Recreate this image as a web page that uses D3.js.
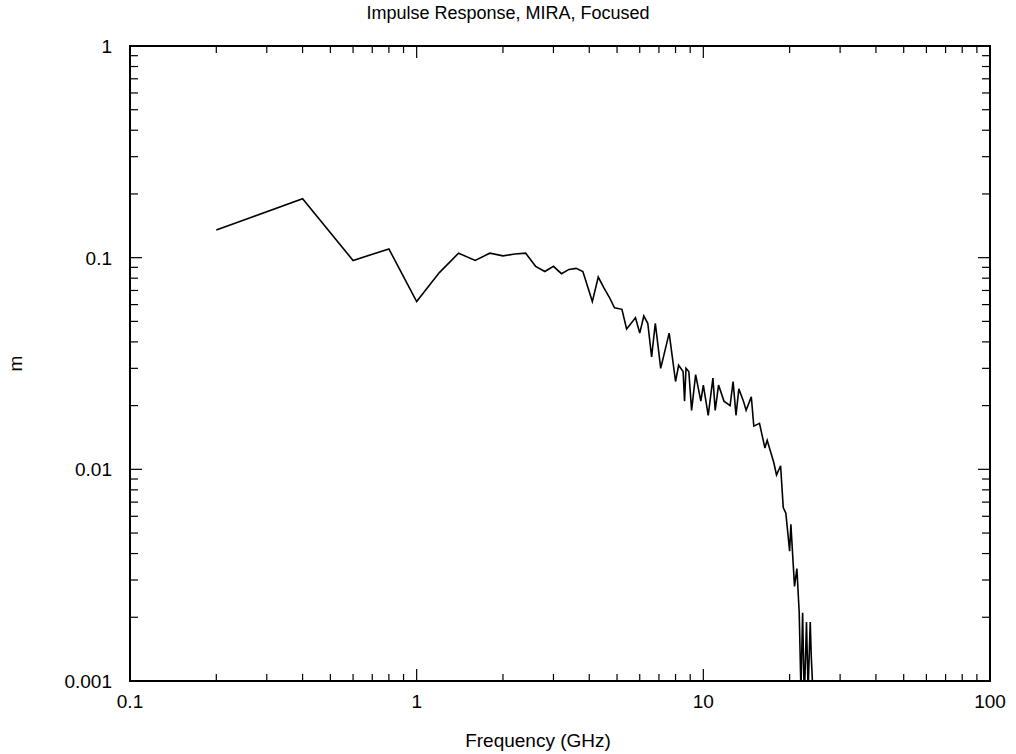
<!DOCTYPE html>
<html><head><meta charset="utf-8">
<script src="https://cdn.jsdelivr.net/npm/d3@7"></script>
<style>body{margin:0;background:#fff}text{font-family:"Liberation Sans",Arial,sans-serif}</style>
</head><body><svg id="c" width="1016" height="754"></svg>
<script>
"use strict";
var freq = [0.2,0.4,0.6,0.8,1.0,1.2,1.4,1.6,1.8,2.0,2.2,2.4,2.6,2.8,3.0,3.2,3.4,3.6,3.8,4.1,4.3,4.5,4.7,4.9,5.2,5.4,5.8,6.0,6.2,6.4,6.6,6.8,7.1,7.6,8.0,8.2,8.5,8.6,8.7,8.9,9.1,9.4,9.8,10.0,10.4,10.8,11.0,11.3,11.8,12.4,12.7,13.0,13.3,13.8,14.1,14.7,15.0,15.7,16.4,16.7,17.6,18.0,18.6,19.0,19.4,20.0,20.2,20.8,21.2,21.6,21.9,22.2,22.5,22.9,23.2,23.6,23.8,24.2];
var mag = [0.135,0.19,0.097,0.11,0.062,0.085,0.105,0.097,0.105,0.102,0.104,0.105,0.091,0.086,0.091,0.084,0.088,0.089,0.086,0.062,0.081,0.072,0.065,0.058,0.057,0.046,0.052,0.044,0.053,0.049,0.034,0.049,0.030,0.044,0.026,0.031,0.029,0.021,0.030,0.029,0.019,0.028,0.021,0.025,0.018,0.027,0.019,0.025,0.021,0.020,0.026,0.018,0.024,0.021,0.019,0.022,0.016,0.0165,0.0126,0.0137,0.0108,0.0094,0.0104,0.0066,0.0062,0.0041,0.0055,0.0028,0.0034,0.0021,0.0009,0.0021,0.0008,0.0019,0.0009,0.0019,0.0013,0.0008];
var xTicks = [0.1,1,10,100];
var yTicks = [0.001,0.01,0.1,1];

var svg = d3.select("#c");
var L = 130, R = 990, T = 46, B = 681;
var x = d3.scaleLog().domain([0.1,100]).range([L,R]);
var y = d3.scaleLog().domain([0.001,1]).range([B,T]);

function minors(dom) {
    var out = [];
    for (var e = Math.log10(dom[0]); e < Math.log10(dom[1]); e++) {
        for (var k = 2; k <= 9; k++) out.push(k * Math.pow(10, e));
    }
    return out;
}

var g = svg.append("g").attr("stroke", "#000").attr("stroke-width", 1.2);
function tick(vals, len, horiz) {
    vals.forEach(function (v) {
        if (horiz) {
            g.append("line").attr("x1", x(v)).attr("x2", x(v)).attr("y1", B).attr("y2", B - len);
            g.append("line").attr("x1", x(v)).attr("x2", x(v)).attr("y1", T).attr("y2", T + len);
        } else {
            g.append("line").attr("y1", y(v)).attr("y2", y(v)).attr("x1", L).attr("x2", L + len);
            g.append("line").attr("y1", y(v)).attr("y2", y(v)).attr("x1", R).attr("x2", R - len);
        }
    });
}
tick(minors([0.1,100]), 7, true);
tick(xTicks, 12, true);
tick(minors([0.001,1]), 8, false);
tick(yTicks, 12, false);

svg.append("clipPath").attr("id", "pc").append("rect")
    .attr("x", L).attr("y", T).attr("width", R - L).attr("height", B - T);

svg.append("path")
    .datum(freq.map(function (f, i) { return [f, mag[i]]; }))
    .attr("clip-path", "url(#pc)")
    .attr("fill", "none").attr("stroke", "#000").attr("stroke-width", 1.6)
    .attr("d", d3.line().x(function (d) { return x(d[0]); }).y(function (d) { return y(d[1]); }));

svg.append("rect").attr("x", L).attr("y", T).attr("width", R - L).attr("height", B - T)
    .attr("fill", "none").attr("stroke", "#000").attr("stroke-width", 2);

svg.selectAll(".xl").data(xTicks).enter().append("text")
    .attr("x", function (d) { return x(d); }).attr("y", B + 27)
    .attr("text-anchor", "middle").style("font-size", "19px")
    .text(function (d) { return d; });
svg.selectAll(".yl").data(yTicks).enter().append("text")
    .attr("x", L - 18).attr("y", function (d) { return y(d) + 7; })
    .attr("text-anchor", "end").style("font-size", "19px")
    .text(function (d) { return d; });

svg.append("text").attr("x", 538).attr("y", 747).attr("text-anchor", "middle")
    .style("font-size", "19px").text("Frequency (GHz)");
svg.append("text").attr("x", 508).attr("y", 19).attr("text-anchor", "middle")
    .style("font-size", "18px").text("Impulse Response, MIRA, Focused");
svg.append("text").attr("transform", "translate(22," + (T + B) / 2 + ") rotate(-90)")
    .attr("text-anchor", "middle").style("font-size", "19px").text("m");
</script></body></html>
